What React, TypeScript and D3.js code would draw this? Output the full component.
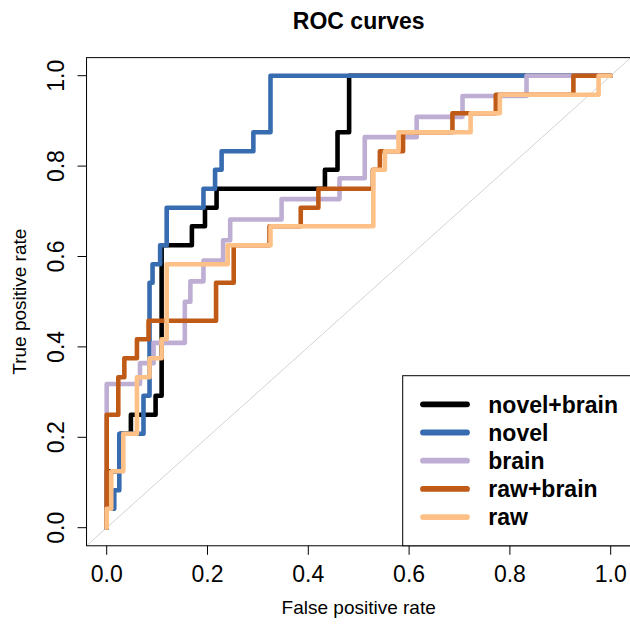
import React from "react";
import * as d3 from "d3";

// ---- data (step vertices: at each FPR the curve rises to the given TPR) ----
const seriesNames = ["novel+brain", "novel", "brain", "raw+brain", "raw"];
const seriesColors = ["#000000", "#386cb0", "#beaed4", "#bf5b17", "#fdc086"];

const novelBrainFpr = [0, 0, 0.027, 0.048, 0.097, 0.109, 0.169, 0.195, 0.218, 0.433, 0.458, 0.481, 1];
const novelBrainTpr = [0, 0.125, 0.208, 0.25, 0.292, 0.625, 0.667, 0.708, 0.75, 0.792, 0.875, 1, 1];

const novelFpr = [0, 0, 0.015, 0.025, 0.073, 0.085, 0.091, 0.106, 0.119, 0.192, 0.215, 0.228, 0.291, 0.325, 1];
const novelTpr = [0, 0.042, 0.083, 0.208, 0.292, 0.542, 0.583, 0.625, 0.708, 0.75, 0.792, 0.833, 0.875, 1, 1];

const brainFpr = [0, 0, 0.066, 0.093, 0.155, 0.166, 0.192, 0.231, 0.245, 0.347, 0.462, 0.512, 0.615, 0.706, 0.833, 1];
const brainTpr = [0, 0.318, 0.364, 0.409, 0.5, 0.545, 0.591, 0.636, 0.682, 0.727, 0.773, 0.864, 0.909, 0.955, 1, 1];

const rawBrainFpr = [0, 0, 0.023, 0.035, 0.06, 0.083, 0.217, 0.252, 0.323, 0.385, 0.42, 0.528, 0.542, 0.588, 0.686, 0.772, 0.926, 1];
const rawBrainTpr = [0, 0.25, 0.333, 0.375, 0.417, 0.458, 0.542, 0.625, 0.667, 0.708, 0.75, 0.792, 0.833, 0.875, 0.917, 0.958, 1, 1];

const rawFpr = [0, 0, 0.009, 0.033, 0.06, 0.085, 0.109, 0.119, 0.24, 0.325, 0.529, 0.552, 0.579, 0.722, 0.78, 0.976, 1];
const rawTpr = [0, 0.042, 0.125, 0.208, 0.333, 0.375, 0.417, 0.583, 0.625, 0.667, 0.792, 0.833, 0.875, 0.917, 0.958, 1, 1];

const xTicks = [0, 0.2, 0.4, 0.6, 0.8, 1.0];
const yTicks = [0, 0.2, 0.4, 0.6, 0.8, 1.0];

const allFpr = [novelBrainFpr, novelFpr, brainFpr, rawBrainFpr, rawFpr];
const allTpr = [novelBrainTpr, novelTpr, brainTpr, rawBrainTpr, rawTpr];

const W = 630;
const H = 624;
const FONT = "'Liberation Sans', Arial, Helvetica, sans-serif";

export default function App() {
  const x = d3.scaleLinear().domain([0, 1]).range([106.7, 610.7]);
  const y = d3.scaleLinear().domain([0, 1]).range([527.7, 75.7]);
  const boxL = x(-0.04);
  const boxR = x(1.04);
  const boxT = y(1.04);
  const boxB = y(-0.04);

  const line = d3
    .line<[number, number]>()
    .x((d) => x(d[0]))
    .y((d) => y(d[1]))
    .curve(d3.curveStepAfter);

  const fmt = d3.format(".1f");
  const tickLen = 9;

  const legL = 402.7;
  const legT = 375.7;
  const legRowY = (i: number) => 404.3 + i * 28.2;

  return (
    <div style={{ position: "fixed", left: 0, top: 0, width: W, height: H, background: "#fff" }}>
      <svg width={W} height={H} style={{ display: "block" }} fontFamily={FONT}>
        <defs>
          <clipPath id="plotclip">
            <rect x={boxL} y={boxT} width={boxR - boxL} height={boxB - boxT} />
          </clipPath>
        </defs>
        <rect x={0} y={0} width={W} height={H} fill="#fff" />
        {/* title */}
        <text x={(boxL + boxR) / 2} y={29} textAnchor="middle" fontSize={23} fontWeight="bold" fill="#000">
          ROC curves
        </text>
        {/* diagonal */}
        <g clipPath="url(#plotclip)">
          <line x1={x(-0.04)} y1={y(-0.04)} x2={x(1.04)} y2={y(1.04)} stroke="#d3d3d3" strokeWidth={1} />
          {allFpr.map((fpr, i) => {
            const pts: [number, number][] = fpr.map((f, j) => [f, allTpr[i][j]]);
            return (
              <path
                key={i}
                d={line(pts) || ""}
                fill="none"
                stroke={seriesColors[i]}
                strokeWidth={4.6}
                strokeLinejoin="round"
                strokeLinecap="round"
              />
            );
          })}
        </g>
        {/* box */}
        <rect x={boxL} y={boxT} width={boxR - boxL} height={boxB - boxT} fill="none" stroke="#000" strokeWidth={1} />
        {/* x axis */}
        {xTicks.map((t) => (
          <g key={"x" + t}>
            <line x1={x(t)} x2={x(t)} y1={boxB} y2={boxB + tickLen} stroke="#000" strokeWidth={1} />
            <text x={x(t)} y={581.5} textAnchor="middle" fontSize={23} fill="#000">
              {fmt(t)}
            </text>
          </g>
        ))}
        {/* y axis */}
        {yTicks.map((t) => (
          <g key={"y" + t}>
            <line x1={boxL - tickLen} x2={boxL} y1={y(t)} y2={y(t)} stroke="#000" strokeWidth={1} />
            <text
              transform={`translate(63.5,${y(t)}) rotate(-90)`}
              textAnchor="middle"
              fontSize={23}
              fill="#000"
            >
              {fmt(t)}
            </text>
          </g>
        ))}
        <text x={(boxL + boxR) / 2} y={614} textAnchor="middle" fontSize={19} fill="#000">
          False positive rate
        </text>
        <text
          transform={`translate(25.5,${(boxT + boxB) / 2}) rotate(-90)`}
          textAnchor="middle"
          fontSize={19}
          fill="#000"
        >
          True positive rate
        </text>
        {/* legend */}
        <rect x={legL} y={legT} width={boxR - legL} height={boxB - legT} fill="#fff" stroke="#000" strokeWidth={1} />
        {seriesNames.map((name, i) => (
          <g key={name}>
            <line
              x1={423}
              x2={467}
              y1={legRowY(i)}
              y2={legRowY(i)}
              stroke={seriesColors[i]}
              strokeWidth={5.8}
              strokeLinecap="round"
            />
            <text x={488.3} y={legRowY(i) + 8.3} fontSize={23} fontWeight="bold" fill="#000">
              {name}
            </text>
          </g>
        ))}
      </svg>
    </div>
  );
}
